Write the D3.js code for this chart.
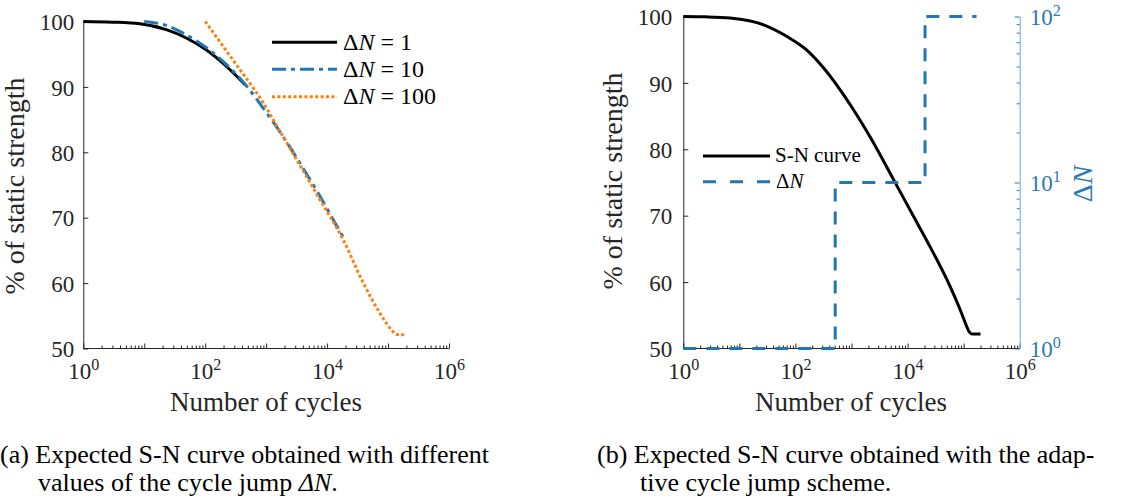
<!DOCTYPE html>
<html><head><meta charset="utf-8">
<script src="https://cdn.jsdelivr.net/npm/d3@7"></script>
</head>
<body style="margin:0">
<svg id="chart" width="1133" height="500"></svg>
<script>
// ---------- data ----------
// (a) left panel
const cyclesDN1   = [1, 3, 8.5, 23, 49, 105, 224, 450];
const strengthDN1 = [100, 99.9, 99.65, 98.75, 97.48, 95.63, 93.12, 90.33];
const cyclesDN10   = [10, 23, 49, 105, 224, 480, 1020, 1900, 3550, 7600, 12600, 19500];
const strengthDN10 = [100, 99.4, 97.95, 96.0, 93.4, 90.1, 86.0, 82.4, 78.4, 73.3, 69.7, 66.6];
const cyclesDN100   = [100, 174, 324, 617, 851, 1480, 3160, 7590, 18200, 38900, 72400, 115000, 138000, 186000];
const strengthDN100 = [100, 96.9, 93.4, 89.8, 87.9, 84.1, 78.9, 72.8, 66.7, 60.1, 55.5, 52.8, 52.15, 52.1];
const legendLeft = ["1", "10", "100"];
// (b) right panel
const cyclesSN   = [1, 2.5, 6.8, 27, 71, 158, 316, 550, 1100, 2140, 3700, 6460, 12900, 25700, 50100, 87100, 110000, 126000, 141000, 200000];
const strengthSN = [100, 99.95, 99.76, 98.75, 96.98, 94.97, 92.27, 89.63, 85.88, 81.88, 78.28, 74.49, 69.84, 65.19, 60.4, 55.8, 53.6, 52.5, 52.2, 52.2];
const cyclesJump = [1, 512, 512, 20500, 20500, 170000];
const jumpDN     = [1, 1, 10, 10, 100, 100];
// axis ticks
const yTicks = [50, 60, 70, 80, 90, 100];
const xDecades = [1, 10, 100, 1e3, 1e4, 1e5, 1e6];
const xLabelExp = [0, 2, 4, 6];
const dnDecadeExp = [0, 1, 2];
const captionA = ["(a) Expected S-N curve obtained with different", "values of the cycle jump "];
const captionB = ["(b) Expected S-N curve obtained with the adap-", "tive cycle jump scheme."];

const BLUE = "#1f77b4", ORANGE = "#ff7f0e", AX = "#262626", RC = "#2a7ab5";
const FF = '"Liberation Serif"';
const TICK = 23, XLAB = 27, YLAB = 28, LEG = 24, LEG2 = 21, CAP = 26;
const svg = d3.select("#chart");

function minorTicks(lo, hi) {
  const t = [];
  for (let d = lo; d < hi; d *= 10) for (let k = 2; k <= 9; k++) t.push(k * d);
  return t;
}
function addPow(sel) {
  sel.each(function(d){
    const t = d3.select(this);
    t.text(null);
    t.append("tspan").text("10");
    t.append("tspan").attr("dy", "-0.55em").attr("font-size", "0.7em").text(Math.round(Math.log10(d)));
  });
}
function txt(parent) {
  return parent.append("text").attr("font-size", 20).style("font-family", FF);
}

function panel(cfg) {
  const g = svg.append("g");
  const x = cfg.x, y = cfg.y;
  const x0 = y.range()[0];
  g.append("g").attr("transform", `translate(0,${x0})`).attr("color", AX)
    .call(d3.axisBottom(x).tickValues(minorTicks(1, 1e6)).tickSize(-3).tickSizeOuter(0).tickFormat(""))
    .call(a => a.select(".domain").remove());
  g.append("g").attr("transform", `translate(0,${x0})`).attr("color", AX)
    .call(d3.axisBottom(x).tickValues(xDecades).tickSize(-5).tickSizeOuter(0).tickFormat(""))
    .call(a => a.select(".domain").remove());
  const xl = g.append("g").attr("transform", `translate(0,${x0})`).attr("color", AX)
    .call(d3.axisBottom(x).tickValues(xLabelExp.map(e => Math.pow(10, e))).tickSize(0).tickSizeOuter(0).tickFormat(d => d));
  xl.select(".domain").remove();
  xl.attr("font-family", null).attr("font-size", null);
  xl.selectAll("text").attr("font-size", TICK).style("font-family", FF).attr("y", 30.5).attr("dy", null).call(addPow);
  g.append("line").attr("x1", x.range()[0]).attr("x2", x.range()[1]).attr("y1", x0).attr("y2", x0).attr("stroke", AX).attr("stroke-width", 1);
  const ya = g.append("g").attr("transform", `translate(${x.range()[0]},0)`).attr("color", AX)
    .call(d3.axisLeft(y).tickValues(yTicks).tickSize(-5).tickPadding(cfg.yPad).tickSizeOuter(0));
  ya.attr("font-family", null).attr("font-size", null);
  ya.selectAll("text").attr("font-size", TICK).style("font-family", FF).attr("dy", "0.36em");
  txt(g).attr("x", cfg.xlabX).attr("y", 411).attr("text-anchor", "middle").attr("fill", AX)
    .attr("font-size", XLAB).text("Number of cycles");
  txt(g).attr("transform", `translate(${cfg.ylabX},${cfg.ylabY}) rotate(-90)`).attr("text-anchor", "middle")
    .attr("fill", AX).attr("font-size", YLAB).text("% of static strength");
  return g;
}

// ---------- left panel ----------
const xL = d3.scaleLog().domain([1, 1e6]).range([83.3, 449]);
const yL = d3.scaleLinear().domain([50, 100]).range([348.5, 21.5]);
const gL = panel({x: xL, y: yL, yPad: 9, xlabX: 266, ylabX: 24, ylabY: 186});
const lineL = d3.line().x(d => xL(d[0])).y(d => yL(d[1])).curve(d3.curveMonotoneX);
const seriesL = [
  {c: cyclesDN1, v: strengthDN1, color: "#000", dash: null},
  {c: cyclesDN10, v: strengthDN10, color: BLUE, dash: "14,5,4,5"},
  {c: cyclesDN100, v: strengthDN100, color: ORANGE, dash: "3,2.4"}
];
seriesL.forEach(s => {
  gL.append("path").datum(d3.zip(s.c, s.v)).attr("d", lineL).attr("fill", "none")
    .attr("stroke", s.color).attr("stroke-width", 3).attr("stroke-dasharray", s.dash);
});
const legY = [42.3, 69.3, 96.7];
seriesL.forEach((s, i) => {
  gL.append("line").attr("x1", 272).attr("x2", 337).attr("y1", legY[i]).attr("y2", legY[i])
    .attr("stroke", s.color).attr("stroke-width", 3).attr("stroke-dasharray", s.dash);
  const t = txt(gL).attr("x", 343).attr("y", legY[i] + 7.5).attr("fill", "#000").attr("font-size", LEG);
  t.append("tspan").text("Δ");
  t.append("tspan").attr("font-style", "italic").text("N");
  t.append("tspan").text(" = " + legendLeft[i]);
});

// ---------- right panel ----------
const xR = d3.scaleLog().domain([1, 1e6]).range([683.3, 1019.7]);
const yR = d3.scaleLinear().domain([50, 100]).range([348.5, 16.5]);
const yR2 = d3.scaleLog().domain([1, 100]).range([348.5, 16.5]);
const gR = panel({x: xR, y: yR, yPad: 11, xlabX: 851, ylabX: 622, ylabY: 181});
gR.append("g").attr("transform", `translate(${xR.range()[1]},0)`).attr("color", RC)
  .call(d3.axisRight(yR2).tickValues(minorTicks(1, 100)).tickSize(-3).tickSizeOuter(0).tickFormat(""))
  .call(a => a.select(".domain").attr("stroke", "#6aa9d6"));
const yr = gR.append("g").attr("transform", `translate(${xR.range()[1]},0)`).attr("color", RC)
  .call(d3.axisRight(yR2).tickValues(dnDecadeExp.map(e => Math.pow(10, e))).tickSize(-5).tickPadding(10).tickSizeOuter(0).tickFormat(d => d));
yr.select(".domain").remove();
yr.attr("font-family", null).attr("font-size", null);
yr.selectAll("text").attr("font-size", TICK).style("font-family", FF).attr("dy", "0.36em").call(addPow);
const dl = txt(gR).attr("transform", "translate(1092,184) rotate(-90)").attr("text-anchor", "middle")
  .attr("fill", RC).attr("font-size", 28);
dl.append("tspan").text("Δ");
dl.append("tspan").attr("font-style", "italic").text("N");

const lineR = d3.line().x(d => xR(d[0])).y(d => yR(d[1])).curve(d3.curveMonotoneX);
gR.append("path").datum(d3.zip(cyclesSN, strengthSN)).attr("d", lineR).attr("fill", "none").attr("stroke", "#000").attr("stroke-width", 3);
const lineJ = d3.line().x(d => xR(d[0])).y(d => yR2(d[1]));
gR.append("path").datum(d3.zip(cyclesJump, jumpDN)).attr("d", lineJ).attr("fill", "none").attr("stroke", BLUE).attr("stroke-width", 3).attr("stroke-dasharray", "13,10");
gR.append("line").attr("x1", 703).attr("x2", 770).attr("y1", 156).attr("y2", 156).attr("stroke", "#000").attr("stroke-width", 3);
txt(gR).attr("x", 775).attr("y", 162).attr("fill", "#000").attr("font-size", LEG2).text("S-N curve");
gR.append("line").attr("x1", 703).attr("x2", 770).attr("y1", 181.7).attr("y2", 181.7).attr("stroke", BLUE).attr("stroke-width", 3).attr("stroke-dasharray", "13,14");
const lt = txt(gR).attr("x", 776).attr("y", 188).attr("fill", "#000").attr("font-size", LEG2);
lt.append("tspan").text("Δ");
lt.append("tspan").attr("font-style", "italic").text("N");

// ---------- captions ----------
txt(svg).attr("x", 0).attr("y", 463).attr("font-size", CAP).text(captionA[0]);
const ca = txt(svg).attr("x", 38).attr("y", 491).attr("font-size", CAP);
ca.append("tspan").text(captionA[1]);
ca.append("tspan").attr("font-style", "italic").text("ΔN");
ca.append("tspan").text(".");
txt(svg).attr("x", 597).attr("y", 463).attr("font-size", CAP).text(captionB[0]);
txt(svg).attr("x", 640).attr("y", 491).attr("font-size", CAP).text(captionB[1]);
</script>
</body></html>
